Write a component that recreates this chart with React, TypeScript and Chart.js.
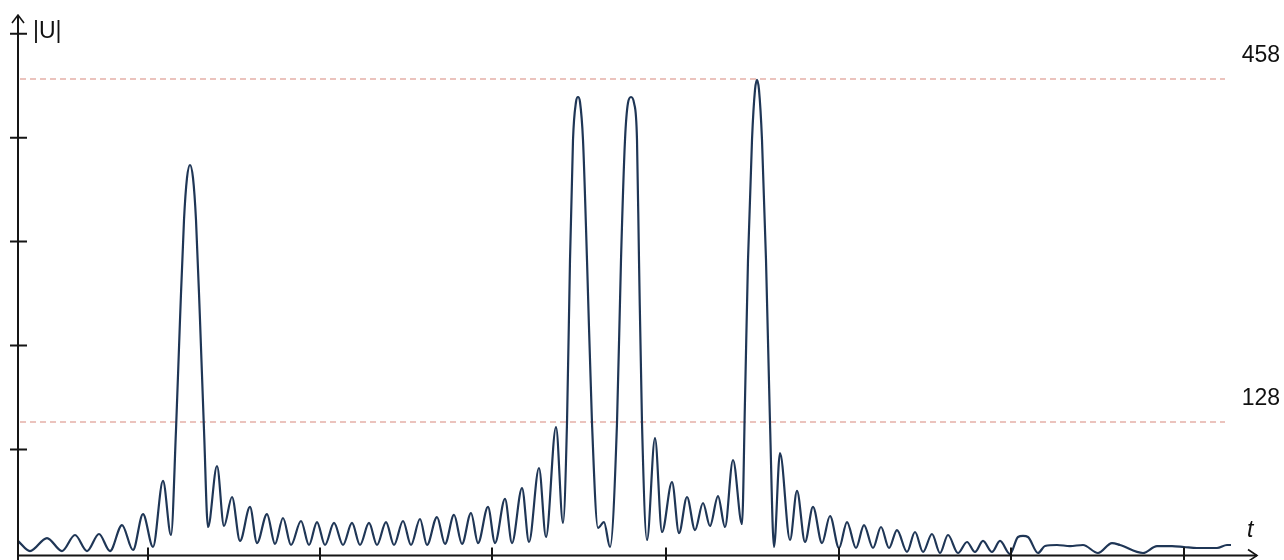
import React, { useEffect, useRef } from 'react';
import { Chart, registerables } from 'chart.js';

Chart.register(...registerables);

// time positions (arbitrary units along the t axis) and |U| amplitudes
const tValues = [
  0, 12, 29, 44, 57, 69, 81, 92, 104, 115, 125, 135, 145, 153,
  158, 162, 166, 169, 172, 175, 178, 182, 186,
  190, 199, 206, 214, 222, 232, 239, 249, 257, 265, 273, 283, 291, 299, 307,
  316, 325, 334, 342, 351, 359, 368, 376, 385, 393, 402, 409, 419, 427, 436, 444,
  453, 460, 470, 477, 487, 494, 504, 511, 521, 528, 538, 545,
  549, 552, 555, 558, 560, 562, 565, 569, 574,
  580, 586, 592,
  599, 603, 607, 610, 613, 616, 619, 621, 624,
  629, 637, 644, 654, 661, 669, 677, 685, 692, 700, 707, 715, 724,
  727, 730, 734, 737, 739, 741, 744, 748, 752,
  756, 762, 772, 779, 787, 795, 804, 812, 821, 829, 838, 846, 855, 863, 871, 879,
  889, 897, 905, 914, 922, 930, 940, 949, 957, 965, 974, 982, 992, 1000, 1005, 1010,
  1020, 1027, 1039, 1052, 1065, 1080, 1094, 1102, 1125, 1139, 1154, 1166, 1179, 1199, 1209, 1213,
];

const uValues = [
  14, 4.3, 16.8, 4.3, 19.7, 4.3, 20.7, 4.3, 29.3, 5.3, 39.9, 8.2, 71.7, 19.7,
  120.7, 226.6, 322.8, 363.2, 375.7, 363.2, 322.8, 226.6, 120.7,
  27.4, 86.1, 28.4, 56.3, 14.0, 46.7, 12.0, 39.9, 11.1, 36.1, 10.1, 33.2, 10.1, 32.2, 10.1,
  31.3, 10.1, 31.3, 10.1, 31.3, 10.1, 32.2, 10.1, 33.2, 10.1, 35.1, 10.1, 37.0, 11.1, 39.0, 11.1,
  40.9, 12.0, 46.7, 12.0, 54.4, 12.0, 64.9, 13.0, 84.2, 17.8, 123.6, 31.3,
  127.5, 284.3, 399.8, 436.3, 441.1, 436.3, 399.8, 284.3, 127.5,
  26.5, 32.2, 8.2,
  127.5, 284.3, 399.8, 435.4, 441.1, 435.4, 399.8, 284.3, 127.5,
  14.9, 113.0, 22.6, 70.7, 21.6, 56.3, 24.5, 50.5, 28.4, 57.2, 27.4, 91.9, 30.3,
  149.6, 284.3, 399.8, 447.9, 457.5, 447.9, 399.8, 284.3, 127.5,
  8.2, 98.6, 14.9, 62.1, 13.0, 46.7, 12.0, 38.0, 7.2, 32.2, 7.2, 29.3, 7.2, 27.4, 7.2, 24.5,
  3.4, 22.6, 3.4, 20.7, 2.4, 19.7, 2.4, 13.0, 3.4, 14.0, 3.4, 14.0, 1.4, 17.8, 18.8, 17.8,
  2.4, 9.1, 10.1, 9.1, 10.1, 2.4, 12.0, 10.1, 2.4, 9.1, 9.1, 8.2, 7.2, 7.2, 10.1, 10.1,
];

const referenceLevels = [458, 128];
const referenceLabels = ['458', '128'];
const xTickValues = [130, 302, 474, 648, 821, 993, 1166];
const yTickValues = [102, 202, 302, 402, 502];
const referenceLineEnd = 1207;
const X_MAX = 1239;
const Y_MAX = 520;

const FONT = '"Liberation Sans", Arial, sans-serif';

const axesPlugin = {
  id: 'customAxes',
  beforeDatasetsDraw(chart: any) {
    const { ctx, chartArea, scales } = chart;
    const xs = scales.x;
    const ys = scales.y;
    ctx.save();
    ctx.strokeStyle = '#d8887c';
    ctx.lineWidth = 1.2;
    ctx.setLineDash([6, 4]);
    referenceLevels.forEach((lvl) => {
      const y = Math.round(ys.getPixelForValue(lvl));
      ctx.beginPath();
      ctx.moveTo(chartArea.left + 2, y);
      ctx.lineTo(xs.getPixelForValue(referenceLineEnd), y);
      ctx.stroke();
    });
    ctx.restore();
  },
  afterDraw(chart: any) {
    const { ctx, scales } = chart;
    const xs = scales.x;
    const ys = scales.y;
    const x0 = xs.getPixelForValue(0);
    const y0 = ys.getPixelForValue(0);
    const xEnd = xs.getPixelForValue(X_MAX);
    const yTop = ys.getPixelForValue(Y_MAX);
    ctx.save();
    ctx.strokeStyle = '#151515';
    ctx.lineWidth = 2;
    ctx.setLineDash([]);
    ctx.beginPath();
    ctx.moveTo(x0, y0);
    ctx.lineTo(xEnd, y0);
    ctx.moveTo(x0, y0 + 5);
    ctx.lineTo(x0, yTop);
    ctx.stroke();
    ctx.lineWidth = 1.6;
    ctx.beginPath();
    ctx.moveTo(x0 - 6, yTop + 8);
    ctx.lineTo(x0, yTop);
    ctx.lineTo(x0 + 6, yTop + 8);
    ctx.moveTo(xEnd - 9, y0 - 6);
    ctx.lineTo(xEnd, y0);
    ctx.lineTo(xEnd - 9, y0 + 6);
    ctx.stroke();
    ctx.lineWidth = 2;
    ctx.beginPath();
    yTickValues.forEach((v) => {
      const y = ys.getPixelForValue(v);
      ctx.moveTo(x0 - 8, y);
      ctx.lineTo(x0 + 9, y);
    });
    xTickValues.forEach((v) => {
      const x = xs.getPixelForValue(v);
      ctx.moveTo(x, y0 - 8);
      ctx.lineTo(x, y0 + 8);
    });
    ctx.stroke();
    ctx.fillStyle = '#111111';
    ctx.font = `23px ${FONT}`;
    ctx.textBaseline = 'middle';
    ctx.textAlign = 'left';
    ctx.fillText('|U|', x0 + 15, yTop + 17);
    ctx.textAlign = 'right';
    referenceLevels.forEach((lvl, i) => {
      ctx.fillText(referenceLabels[i], chart.width - 4, ys.getPixelForValue(lvl) - 24);
    });
    ctx.textAlign = 'left';
    ctx.font = `italic 23px ${FONT}`;
    ctx.fillText('t', xEnd - 10, y0 - 25);
    ctx.restore();
  },
};

export default function App() {
  const canvasRef = useRef<HTMLCanvasElement | null>(null);

  useEffect(() => {
    document.body.style.margin = '0';
    const canvas = canvasRef.current;
    if (!canvas) return;
    const points = tValues.map((t, i) => ({ x: t, y: uValues[i] }));
    const chart = new Chart(canvas, {
      type: 'line',
      data: {
        datasets: [
          {
            data: points,
            borderColor: '#1f3656',
            borderWidth: 2.2,
            pointRadius: 0,
            fill: false,
            cubicInterpolationMode: 'monotone',
          },
        ],
      },
      options: {
        animation: false,
        responsive: true,
        maintainAspectRatio: false,
        layout: { padding: { left: 18, right: 27, top: 15, bottom: 4.5 } },
        plugins: { legend: { display: false }, tooltip: { enabled: false } },
        scales: {
          x: { type: 'linear', min: 0, max: X_MAX, display: false },
          y: { type: 'linear', min: 0, max: Y_MAX, display: false },
        },
      },
      plugins: [axesPlugin],
    });
    return () => chart.destroy();
  }, []);

  return (
    <div style={{ position: 'fixed', left: 0, top: 0, width: 1284, height: 560, background: '#ffffff' }}>
      <canvas ref={canvasRef} />
    </div>
  );
}
